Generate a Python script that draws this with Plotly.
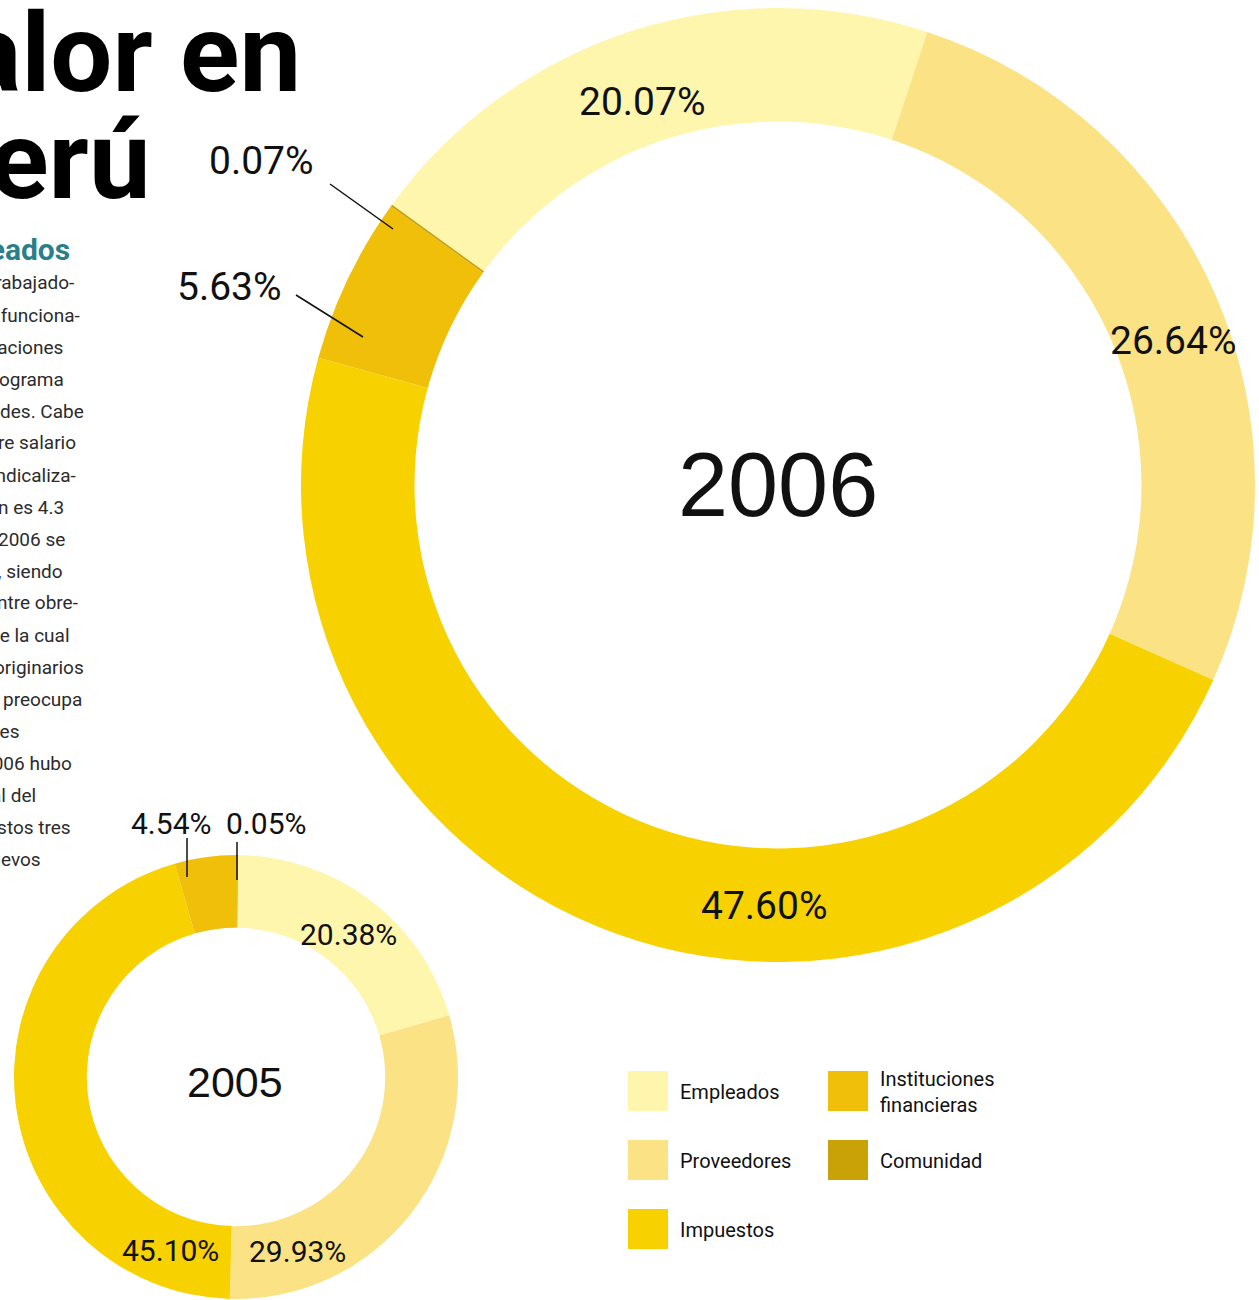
import plotly.graph_objects as go

W, H = 1259, 1300

# ---------------- data ----------------
categories = ["Empleados", "Proveedores", "Impuestos", "Instituciones financieras", "Comunidad"]
legend_labels = ["Empleados", "Proveedores", "Impuestos", "Instituciones<br>financieras", "Comunidad"]
colors = ["#FEF6AC", "#FBE385", "#F7D200", "#EFBF0A", "#C9A207"]
values_2006 = [20.07, 26.64, 47.60, 5.63, 0.07]
values_2005 = [20.38, 29.93, 45.10, 4.54, 0.05]
years = ["2006", "2005"]

title_lines = ["Valor en", "Perú"]
subtitle = "Empleados"
body_lines = ["trabajado-", "y funciona-", "taciones", "programa", "dades. Cabe",
              "re salario", "sindicaliza-", "n es 4.3", "2006 se", "9, siendo",
              "entre obre-", "de la cual", "originarios", "a preocupa", "les",
              "2006 hubo", "al del", "estos tres", "nuevos"]

NARROW = "Roboto, Liberation Sans Narrow, DejaVu Sans Condensed, sans-serif"
REG = "Liberation Sans, Arial, sans-serif"


def px(x):
    return x / W


def py(y):
    return 1 - y / H


fig = go.Figure()

# big donut 2006
fig.add_trace(go.Pie(
    values=values_2006, labels=categories, sort=False, direction="clockwise",
    rotation=-54, hole=0.762,
    domain=dict(x=[px(301), px(1255)], y=[py(962), py(8)]),
    marker=dict(colors=colors, line=dict(width=0)),
    textinfo="none", showlegend=False, hoverinfo="label+percent",
))

# small donut 2005
fig.add_trace(go.Pie(
    values=values_2005, labels=categories, sort=False, direction="clockwise",
    rotation=0.5, hole=0.672,
    domain=dict(x=[px(14), px(458)], y=[0, 446 / H]),
    marker=dict(colors=colors, line=dict(width=0)),
    textinfo="none", showlegend=False, hoverinfo="label+percent",
))

annotations = []
shapes = []

# slice value labels
pos_2006 = [(642, 102), (1173, 341), (764, 906), (229, 287), (261, 161)]
pos_2005 = [(348, 934), (297, 1251), (170, 1250), (171, 823), (266, 823)]
for vals, pos, size in [(values_2006, pos_2006, 39), (values_2005, pos_2005, 30)]:
    for v, (x, y) in zip(vals, pos):
        annotations.append(dict(x=px(x), y=py(y), xref="paper", yref="paper",
                                text=f"{v:.2f}%", showarrow=False,
                                xanchor="center", yanchor="middle",
                                font=dict(family=NARROW, size=size, color="#111111")))

# leader lines
leaders = [((296, 295), (363, 337)), ((330, 184), (393, 229)),
           ((187, 838), (187, 877)), ((237, 842), (237, 880))]
for (x0, y0), (x1, y1) in leaders:
    shapes.append(dict(type="line", xref="paper", yref="paper",
                       x0=px(x0), y0=py(y0), x1=px(x1), y1=py(y1),
                       line=dict(color="#111111", width=1.5)))

# year labels in donut centres
for yr, (x, y), size in zip(years, [(778, 485), (235, 1082)], [90, 43]):
    annotations.append(dict(x=px(x), y=py(y), xref="paper", yref="paper",
                            text=yr, showarrow=False, xanchor="center", yanchor="middle",
                            font=dict(family=REG, size=size, color="#111111")))

# legend
legend_pos = [(628, 1071), (628, 1140), (628, 1209), (828, 1071), (828, 1140)]
for lab, col, (x, y) in zip(legend_labels, colors, legend_pos):
    shapes.append(dict(type="rect", xref="paper", yref="paper",
                       x0=px(x), y0=py(y + 40), x1=px(x + 40), y1=py(y),
                       fillcolor=col, line=dict(width=0)))
    annotations.append(dict(x=px(x + 50), y=py(y + 21), xref="paper", yref="paper",
                            text=lab, showarrow=False, xanchor="left", yanchor="middle",
                            align="left",
                            font=dict(family=NARROW, size=20, color="#111111")))

# cropped title on the left
for line, (xr, ym) in zip(title_lines, [(303, 53), (153, 160)]):
    annotations.append(dict(x=px(xr), y=py(ym), xref="paper", yref="paper",
                            text=f"<b>{line}</b>", showarrow=False,
                            xanchor="right", yanchor="middle",
                            font=dict(family=NARROW, size=110, color="#000000")))

annotations.append(dict(x=px(72), y=py(249), xref="paper", yref="paper",
                        text=f"<b>{subtitle}</b>", showarrow=False,
                        xanchor="right", yanchor="middle",
                        font=dict(family=NARROW, size=30, color="#2A7F88")))

body_right = [76, 82, 65, 66, 86, 78, 78, 66, 67, 65, 80, 72, 86, 84, 22, 74, 38, 73, 43]
for i, (txt, xr) in enumerate(zip(body_lines, body_right)):
    annotations.append(dict(x=px(xr), y=py(283 + 32 * i), xref="paper", yref="paper",
                            text=txt, showarrow=False, xanchor="right", yanchor="middle",
                            font=dict(family=NARROW, size=19, color="#2B2B2B")))

fig.update_layout(
    width=W, height=H, margin=dict(l=0, r=0, t=0, b=0),
    paper_bgcolor="white", plot_bgcolor="white",
    annotations=annotations, shapes=shapes,
)

fig.write_html("out.html", config={"displayModeBar": False},
               post_script="document.body.style.margin='0';document.body.style.overflow='hidden';")
